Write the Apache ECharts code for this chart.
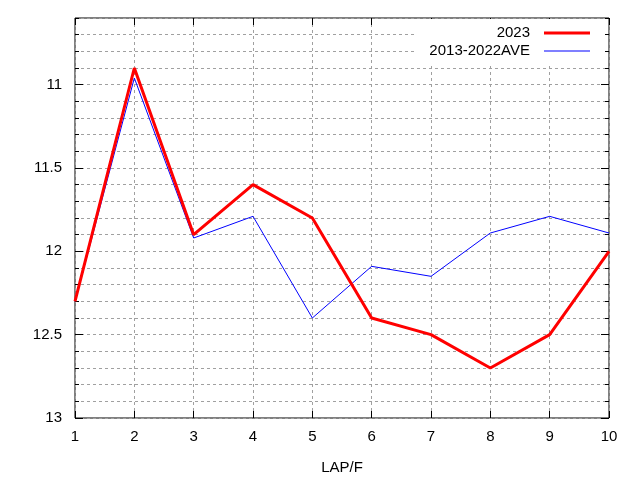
<!DOCTYPE html>
<html>
<head>
<meta charset="utf-8">
<script src="https://cdn.jsdelivr.net/npm/echarts@6/dist/echarts.min.js"></script>
<style>
  html, body { margin: 0; padding: 0; background: #fff; }
  #chart { width: 640px; height: 480px; }
</style>
</head>
<body>
<div id="chart"></div>
<script>
// lap numbers
const laps = [1, 2, 3, 4, 5, 6, 7, 8, 9, 10];
// 2023 lap times
const times2023 = [12.3, 10.9, 11.9, 11.6, 11.8, 12.4, 12.5, 12.7, 12.5, 12.0];
// 2013-2022 average
const timesAve = [12.3, 10.96, 11.92, 11.79, 12.4, 12.09, 12.15, 11.89, 11.79, 11.89];
const yMajor = [11, 11.5, 12, 12.5, 13];

const font = 'Liberation Sans, Arial, sans-serif';
const chart = echarts.init(document.getElementById('chart'));

const pairs = arr => laps.map((x, i) => [x, arr[i]]);

const gridLine = { show: true, lineStyle: { color: '#a0a0a0', type: [3, 3], width: 1 } };

chart.setOption({
  animation: false,
  grid: { left: 75, right: 31, top: 18, bottom: 62, show: true, borderColor: '#000', borderWidth: 1, backgroundColor: 'transparent' },
  legend: {
    right: 35, top: 19,
    orient: 'vertical',
    align: 'right',
    itemWidth: 46, itemHeight: 14, itemGap: 0,
    backgroundColor: '#fff',
    padding: [5, 15, 5, 13],
    textStyle: { fontFamily: font, fontSize: 15, color: '#000', padding: [0, 9, 0, 0], lineHeight: 18 },
    data: [
      { name: '2023', icon: 'path://M0,0H46V3H0Z', itemStyle: { color: '#ff0000' } },
      { name: '2013-2022AVE', icon: 'path://M0,0H46V1H0Z', itemStyle: { color: '#0000ff' } }
    ]
  },
  xAxis: [{
    type: 'value', min: 1, max: 10, interval: 1,
    name: 'LAP/F', nameLocation: 'middle', nameGap: 42,
    nameTextStyle: { fontFamily: font, fontSize: 15, color: '#000' },
    axisLine: { show: false },
    axisTick: { show: true, inside: true, length: 7, lineStyle: { color: '#000' } },
    axisLabel: { fontFamily: font, fontSize: 15, color: '#000', margin: 11 },
    splitLine: gridLine
  }, {
    type: 'value', min: 1, max: 10, interval: 1, position: 'top',
    axisLine: { show: false },
    axisTick: { show: true, inside: true, length: 7, lineStyle: { color: '#000' } },
    axisLabel: { show: false },
    splitLine: { show: false }
  }],
  yAxis: [{
    type: 'value', inverse: true, min: 10.6, max: 13, interval: 0.1,
    axisLine: { show: false },
    axisTick: { show: true, inside: true, length: 4, lineStyle: { color: '#000' } },
    axisLabel: {
      fontFamily: font, fontSize: 15, color: '#000', margin: 13,
      formatter: v => Math.abs(v * 2 - Math.round(v * 2)) < 1e-6 ? String(+v.toFixed(1)) : ''
    },
    splitLine: gridLine
  }, {
    type: 'value', inverse: true, min: 10.6, max: 13, position: 'left',
    axisLine: { show: false },
    axisTick: { show: true, inside: true, length: 8, customValues: yMajor, lineStyle: { color: '#000' } },
    axisLabel: { show: false },
    splitLine: { show: false }
  }, {
    type: 'value', inverse: true, min: 10.6, max: 13, interval: 0.1, position: 'right',
    axisLine: { show: false },
    axisTick: { show: true, inside: true, length: 4, lineStyle: { color: '#000' } },
    axisLabel: { show: false },
    splitLine: { show: false }
  }, {
    type: 'value', inverse: true, min: 10.6, max: 13, position: 'right',
    axisLine: { show: false },
    axisTick: { show: true, inside: true, length: 8, customValues: yMajor, lineStyle: { color: '#000' } },
    axisLabel: { show: false },
    splitLine: { show: false }
  }],
  series: [{
    name: '2023', type: 'line', data: pairs(times2023),
    showSymbol: false, symbol: 'none', z: 3,
    lineStyle: { color: '#ff0000', width: 3 }, itemStyle: { color: '#ff0000' }
  }, {
    name: '2013-2022AVE', type: 'line', data: pairs(timesAve),
    showSymbol: false, symbol: 'none', z: 2,
    lineStyle: { color: '#0000ff', width: 1 }, itemStyle: { color: '#0000ff' }
  }]
});
</script>
</body>
</html>
